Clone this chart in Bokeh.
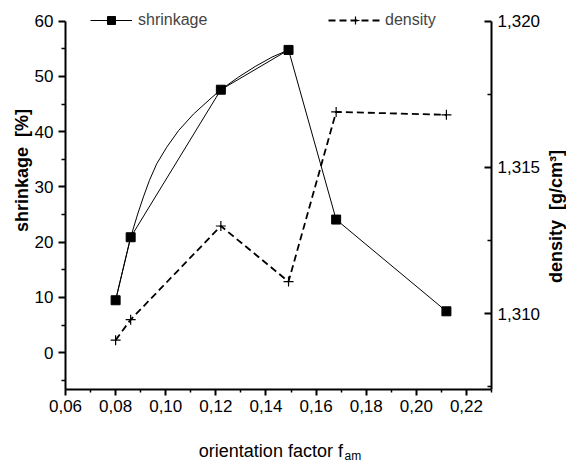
import math
from bokeh.plotting import figure
from bokeh.models import Range1d, LinearAxis, FixedTicker, Legend, LegendItem, Label
from bokeh.embed import file_html
from bokeh.resources import INLINE

# ---- data ----
orientation = [0.080, 0.086, 0.122, 0.149, 0.168, 0.212]
shrinkage = [9.5, 20.9, 47.6, 54.8, 24.1, 7.5]
density = [1.3091, 1.3098, 1.3130, 1.3111, 1.3169, 1.3168]

# smooth guide curve drawn through the first four shrinkage points
curve_x = [0.080, 0.086, 0.0888, 0.0911, 0.0935, 0.0964, 0.1004, 0.1051, 0.1111,
           0.1184, 0.122, 0.1291, 0.1357, 0.1424, 0.149]
curve_y = [9.5, 20.9, 25.1, 28.2, 31.2, 34.2, 37.2, 40.2, 43.2,
           46.2, 47.6, 49.9, 51.8, 53.5, 54.8]

x_ticks = [0.06, 0.08, 0.10, 0.12, 0.14, 0.16, 0.18, 0.20, 0.22]
x_tick_labels = ["0,06", "0,08", "0,10", "0,12", "0,14", "0,16", "0,18", "0,20", "0,22"]
x_minor = [0.07, 0.09, 0.11, 0.13, 0.15, 0.17, 0.19, 0.21, 0.23]
y_ticks = [0, 10, 20, 30, 40, 50, 60]
y_minor = [-5, 5, 15, 25, 35, 45, 55]
d_ticks = [1.310, 1.315, 1.320]
d_tick_labels = ["1,310", "1,315", "1,320"]
d_minor = [1.3075, 1.3125, 1.3175]

X_MIN, X_MAX = 0.06, 0.23          # extent of the drawn x axis
Y_MIN, Y_MAX = -6.64, 60           # extent of the shrinkage axis
D_MIN, D_MAX = 1.307413, 1.320     # extent of the density axis

NB = "\u00a0"
x_title = "orientation factor f"
x_title_sub = "am"
y_title = "shrinkage" + NB + NB + "[%]"
d_title = "density" + NB + NB + "[g/cm\u00b3]"

FONT = "Liberation Sans"

# the plot frame fills the whole canvas; axes are pinned at fixed data locations
p = figure(width=566, height=463, output_backend="svg", toolbar_location=None,
           x_range=Range1d(0.034062, 0.25992), y_range=Range1d(-20.04, 63.742),
           x_axis_location=None, y_axis_location=None,
           min_border_left=0, min_border_right=0, min_border_top=0, min_border_bottom=0)
p.extra_y_ranges = {"density": Range1d(1.304884, 1.320707)}
p.outline_line_color = None
p.background_fill_color = "white"
p.border_fill_color = "white"
p.grid.visible = False

xa = LinearAxis(fixed_location=Y_MIN, bounds=(X_MIN, X_MAX))
ya = LinearAxis(fixed_location=X_MIN, bounds=(Y_MIN, Y_MAX))
right = LinearAxis(y_range_name="density", fixed_location=X_MAX, bounds=(D_MIN, D_MAX))
p.add_layout(xa, "below")
p.add_layout(ya, "left")
p.add_layout(right, "right")

for ax in (xa, ya, right):
    ax.axis_line_width = 2
    ax.axis_line_color = "black"
    ax.major_tick_line_width = 2
    ax.minor_tick_line_width = 1.5
    ax.major_tick_line_color = "black"
    ax.minor_tick_line_color = "black"
    ax.major_label_text_font = FONT
    ax.major_label_text_font_size = "17px"
    ax.major_label_text_color = "black"

xa.ticker = FixedTicker(ticks=x_ticks, minor_ticks=x_minor)
xa.major_label_overrides = dict(zip(x_ticks, x_tick_labels))
xa.major_tick_out = 6
xa.major_tick_in = 0
xa.minor_tick_out = 3
xa.minor_tick_in = 0
xa.major_label_standoff = 5

ya.ticker = FixedTicker(ticks=y_ticks, minor_ticks=y_minor)
ya.major_tick_out = 7
ya.major_tick_in = 0
ya.minor_tick_out = 4
ya.minor_tick_in = 0
ya.major_label_standoff = 5

right.ticker = FixedTicker(ticks=d_ticks, minor_ticks=d_minor)
right.major_label_overrides = dict(zip(d_ticks, d_tick_labels))
right.major_tick_out = 0
right.major_tick_in = 7
right.minor_tick_out = 0
right.minor_tick_in = 4
right.major_label_standoff = 6

# ---- series ----
p.line(curve_x, curve_y, line_color="black", line_width=1)
sl = p.line(orientation, shrinkage, line_color="black", line_width=1)
dl = p.line(orientation, density, y_range_name="density", line_color="black",
            line_width=1.8, line_dash="7 4")
ds = p.scatter(orientation, density, y_range_name="density", marker="cross", size=10,
               line_color="black", line_width=1.2)
ss = p.scatter(orientation, shrinkage, marker="square", size=9,
               fill_color="black", line_color="black")

leg1 = Legend(items=[LegendItem(label="shrinkage", renderers=[sl, ss])],
              location=(90, 433), glyph_width=42, glyph_height=20, label_height=20,
              label_standoff=6, padding=0, margin=0, border_line_color=None,
              background_fill_alpha=0, label_text_font=FONT, label_text_font_size="16px")
leg2 = Legend(items=[LegendItem(label="density", renderers=[dl, ds])],
              location=(328, 433), glyph_width=54, glyph_height=20, label_height=20,
              label_standoff=3, padding=0, margin=0, border_line_color=None,
              background_fill_alpha=0, label_text_font=FONT, label_text_font_size="16px")
p.add_layout(leg1)
p.add_layout(leg2)

# ---- axis titles ----
p.add_layout(Label(x=0.04272, y=32.98, text=y_title, angle=math.pi / 2,
                   text_align="center", text_baseline="middle", text_font=FONT,
                   text_font_style="bold", text_font_size="18px", text_color="black"))
p.add_layout(Label(x=0.25573, y=24.66, text=d_title, angle=math.pi / 2,
                   text_align="center", text_baseline="middle", text_font=FONT,
                   text_font_style="bold", text_font_size="18px", text_color="black"))
p.add_layout(Label(x=0.1707, y=-17.72, text=x_title,
                   text_align="right", text_baseline="middle", text_font=FONT,
                   text_font_size="18px", text_color="black"))
p.add_layout(Label(x=0.17133, y=-18.6, text=x_title_sub,
                   text_align="left", text_baseline="middle", text_font=FONT,
                   text_font_size="12px", text_color="black"))

open("out.html", "w").write(file_html(p, INLINE))
